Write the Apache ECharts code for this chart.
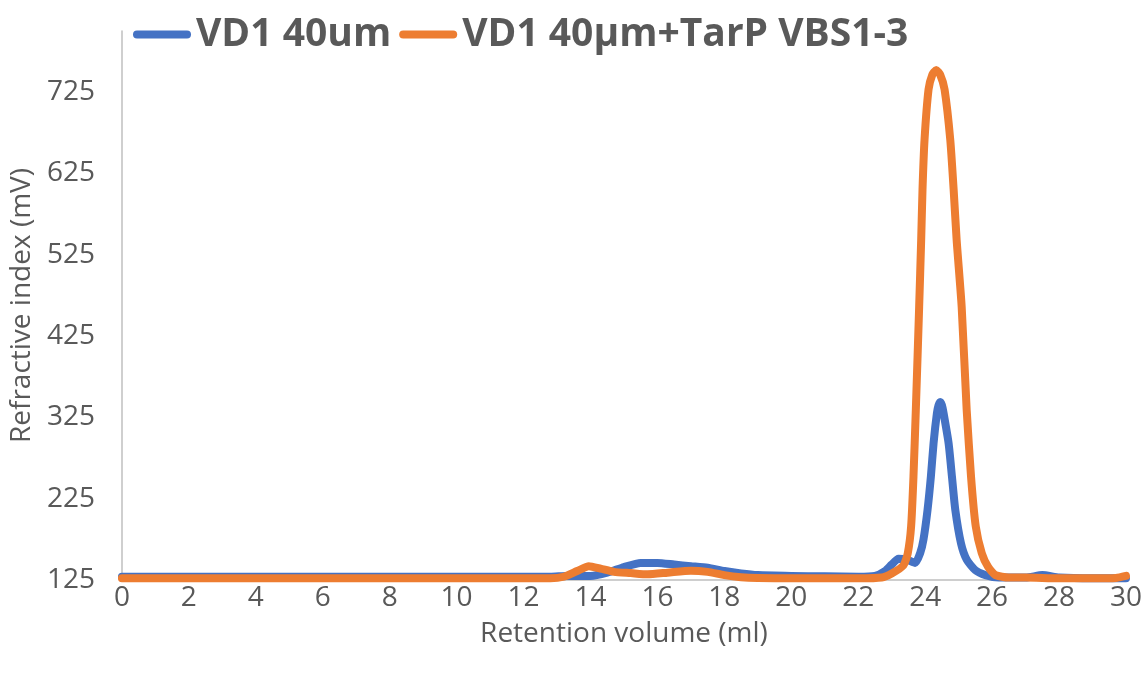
<!DOCTYPE html>
<html>
<head>
<meta charset="utf-8">
<script src="https://cdn.jsdelivr.net/npm/echarts@6/dist/echarts.min.js"></script>
<style>
html,body{margin:0;padding:0;background:#fff;}
#chart{width:1146px;height:675px;}
</style>
</head>
<body>
<div id="chart"></div>
<script>
// Retention volume (ml) and refractive index (mV) readings
const seriesNames = ['VD1 40um', 'VD1 40μm+TarP VBS1-3'];
const xTicks = [0, 2, 4, 6, 8, 10, 12, 14, 16, 18, 20, 22, 24, 26, 28, 30];
const yTicks = [125, 225, 325, 425, 525, 625, 725];

const blueX = [0, 2, 4, 6, 8, 10, 12, 12.8, 13.3, 13.8, 14.0, 14.5, 15.0, 15.5, 16.0, 16.5, 17.0, 17.5, 18.0, 18.5, 19.0, 20, 21, 22, 22.5, 22.8, 23.0, 23.2, 23.45, 23.7, 23.85, 23.95, 24.07, 24.17, 24.25, 24.35, 24.4, 24.45, 24.5, 24.55, 24.7, 24.8, 24.9, 25.07, 25.24, 25.5, 25.8, 26.2, 27.0, 27.5, 28.0, 29, 30];
const blueY = [129, 129, 129, 129, 129, 129, 129, 129, 130, 130, 130, 134, 141, 146, 146, 144, 142, 140, 136, 133, 131, 130, 129.5, 129, 130, 136, 144, 151, 150, 146, 158, 175, 211, 252, 293, 330, 340, 344, 340, 330, 293, 252, 211, 170, 150, 137, 131, 128, 128, 131, 128, 127, 127];

const orangeX = [0, 2, 4, 6, 8, 10, 12, 12.8, 13.2, 13.6, 13.95, 14.3, 14.7, 15.2, 15.7, 16.3, 17.0, 17.5, 18.0, 18.5, 19, 20, 22, 22.7, 23.0, 23.35, 23.48, 23.58, 23.65, 23.72, 23.82, 23.88, 23.92, 23.98, 24.1, 24.21, 24.33, 24.45, 24.58, 24.75, 24.85, 24.94, 25.09, 25.24, 25.37, 25.51, 25.69, 25.88, 26.1, 26.5, 27, 28, 29, 29.7, 30];
const orangeY = [127, 127, 127, 127, 127, 127, 127, 127, 129, 136, 142, 139, 135, 133.5, 132, 134, 136.5, 135, 131, 128.5, 127.5, 127, 127, 128, 133, 143, 158, 191, 252, 334, 461, 543, 605, 666, 728, 746, 752, 746, 728, 666, 605, 543, 461, 334, 252, 191, 158, 141, 131, 128, 128, 127, 127, 127.5, 130];

const pair = (xs, ys) => xs.map((x, i) => [x, ys[i]]);
const textColor = '#595959';
const font = 'Open Sans';
const capsule = 'path://M4,0 L54,0 A4,4 0 0 1 54,8 L4,8 A4,4 0 0 1 4,0 Z';

const chart = echarts.init(document.getElementById('chart'));
chart.setOption({
  animation: false,
  backgroundColor: '#ffffff',
  color: ['#4472C4', '#ED7D31'],
  legend: {
    data: seriesNames,
    left: 128,
    top: 10,
    icon: capsule,
    itemWidth: 58,
    itemHeight: 9,
    itemGap: 8,
    textStyle: { color: textColor, fontSize: 39, fontWeight: 'bold', fontFamily: font }
  },
  grid: { left: 121, right: 20, top: 31, bottom: 95, containLabel: false },
  xAxis: {
    type: 'value',
    min: 0, max: 30, interval: 2,
    name: 'Retention volume (ml)',
    nameLocation: 'middle',
    nameGap: 40,
    nameTextStyle: { color: textColor, fontSize: 28, fontFamily: font },
    axisLine: { show: true, lineStyle: { color: '#BFBFBF', width: 1.5 } },
    axisTick: { show: false },
    splitLine: { show: false },
    axisLabel: { color: textColor, fontSize: 28, fontFamily: font, margin: 4 }
  },
  yAxis: {
    type: 'value',
    min: 125, max: 800, interval: 100,
    name: 'Refractive index (mV)',
    nameLocation: 'middle',
    nameGap: 74,
    nameTextStyle: { color: textColor, fontSize: 28, fontFamily: font },
    axisLine: { show: true, lineStyle: { color: '#BFBFBF', width: 1.5 } },
    axisTick: { show: false },
    splitLine: { show: false },
    axisLabel: {
      color: textColor, fontSize: 28, fontFamily: font, margin: 27, showMaxLabel: false,
      formatter: v => (yTicks.indexOf(v) >= 0 ? String(v) : '')
    }
  },
  series: [
    {
      name: seriesNames[0], type: 'line', data: pair(blueX, blueY),
      showSymbol: false, symbol: 'none', smooth: 0.2,
      lineStyle: { width: 8, cap: 'round', join: 'round' }, z: 2
    },
    {
      name: seriesNames[1], type: 'line', data: pair(orangeX, orangeY),
      showSymbol: false, symbol: 'none', smooth: 0.2,
      lineStyle: { width: 8, cap: 'round', join: 'round' }, z: 3
    }
  ]
});
</script>
</body>
</html>
